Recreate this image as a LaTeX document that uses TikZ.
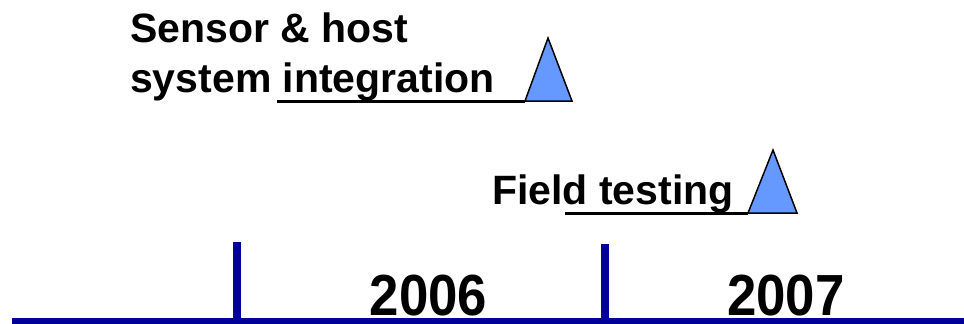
\documentclass[tikz,border=0pt]{standalone}
\usepackage{fontspec}
\setmainfont{Liberation Sans}
\definecolor{axisblue}{RGB}{0,0,153}
\definecolor{markblue}{RGB}{102,153,255}
\begin{document}
\begin{tikzpicture}[x=1pt,y=-1pt,
  milestone/.style={fill=markblue,draw=black,line width=1.5pt,line join=miter},
  tasktext/.style={inner sep=0pt,font=\fontsize{41}{50}\selectfont\bfseries,align=left},
  yeartext/.style={inner sep=0pt,text depth=0pt,font=\fontsize{58}{60}\selectfont\bfseries,xscale=0.91}]
  \useasboundingbox (0,0) rectangle (964,324);

  % Zeitachse
  \coordinate (axisL) at (12,321);
  \coordinate (axisR) at (964,321);
  \draw[axisblue,line width=6pt] (axisL) -- (axisR);
  \coordinate (tickA) at (236.5,242);
  \coordinate (tickB) at (604.7,244);
  \draw[axisblue,line width=8pt] (tickA) -- (tickA |- axisL);
  \draw[axisblue,line width=8pt] (tickB) -- (tickB |- axisL);

  % Jahre
  \node[yeartext,anchor=base] (y2006) at (428.5,315) {2006};
  \node[yeartext,anchor=base] (y2007) at (786,315) {2007};

  % Meilenstein 1 (base = letzte Zeile)
  \node[tasktext,anchor=base west] (integ) at (130,92) {Sensor \& host\\system integration};
  \coordinate (ulA) at (277,101);
  \coordinate (triA) at (525,101);
  \draw[line width=3pt] (ulA) -- (triA);
  \draw[milestone] (triA) -- (548,38) -- (572,101) -- cycle;

  % Meilenstein 2
  \node[tasktext,anchor=base west] (field) at (492,204) {Field testing};
  \coordinate (ulB) at (565,213);
  \coordinate (triB) at (748,213);
  \draw[line width=3pt] (ulB) -- (triB);
  \draw[milestone] (triB) -- (773,150) -- (797,213) -- cycle;
\end{tikzpicture}
\end{document}
